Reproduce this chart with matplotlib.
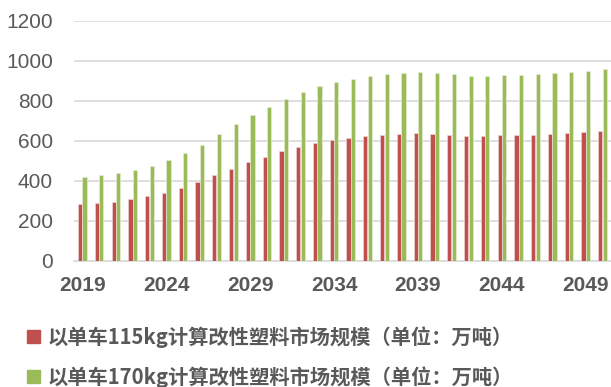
import numpy as np
import matplotlib.pyplot as plt
from matplotlib.patches import Patch

plt.rcParams['font.family'] = ['Liberation Sans', 'DejaVu Sans']

years = list(range(2019, 2051))
market_115 = [283, 288, 295, 307, 322, 340, 363, 392, 427, 460, 492, 520, 548, 570, 588, 605,
              613, 623, 630, 635, 637, 635, 630, 625, 625, 627, 628, 628, 633, 638, 643, 648]
market_170 = [418, 427, 438, 455, 475, 503, 537, 580, 632, 682, 727, 770, 810, 843, 873, 893,
              908, 923, 933, 938, 943, 938, 932, 923, 925, 927, 928, 933, 938, 943, 950, 957]
labels = ['以单车115kg计算改性塑料市场规模（单位：万吨）',
          '以单车170kg计算改性塑料市场规模（单位：万吨）']
red = '#c0504d'
green = '#9bbb59'
grey = '#595959'

fig = plt.figure(figsize=(6.11, 3.87), dpi=100)
ax = fig.add_axes([0.121, 0.3264, 0.879, 0.6201])

x = np.arange(len(years))
w = 0.25
ax.bar(x - 0.135, market_115, w, color=red, edgecolor='#f2dcdb', linewidth=0.4, zorder=3)
ax.bar(x + 0.135, market_170, w, color=green, edgecolor='#ebf1de', linewidth=0.4, zorder=3)

ax.set_xlim(-0.5, len(years) - 0.5)
ax.set_ylim(0, 1200)
ax.set_yticks(range(0, 1201, 200))
ax.set_xticks(x[::5])
ax.set_xticklabels([str(y) for y in years[::5]], fontsize=15, fontweight='bold', color=grey)
for t in ax.get_yticklabels():
    t.set_fontsize(15)
    t.set_color(grey)
ax.tick_params(axis='both', length=0)
ax.tick_params(axis='y', pad=15)
ax.tick_params(axis='x', pad=11)
ax.grid(axis='y', color='#d9d9d9', linewidth=1.2, zorder=0)
for s in ['top', 'right', 'left']:
    ax.spines[s].set_visible(False)
ax.spines['bottom'].set_color('#d9d9d9')
ax.spines['bottom'].set_linewidth(1.2)

handles = [Patch(color=red), Patch(color=green)]
leg = fig.legend(handles, labels, loc='upper left', bbox_to_anchor=(0.045, 0.157),
                 frameon=False, handlelength=0.6, handleheight=0.6, handletextpad=0.4,
                 labelspacing=0.9, borderaxespad=0, borderpad=0,
                 prop={'family': ['Noto Sans CJK SC', 'DejaVu Sans'], 'size': 14.6, 'weight': 'bold'})
for t in leg.get_texts():
    t.set_color(grey)

fig.savefig('out.png', dpi=100)
